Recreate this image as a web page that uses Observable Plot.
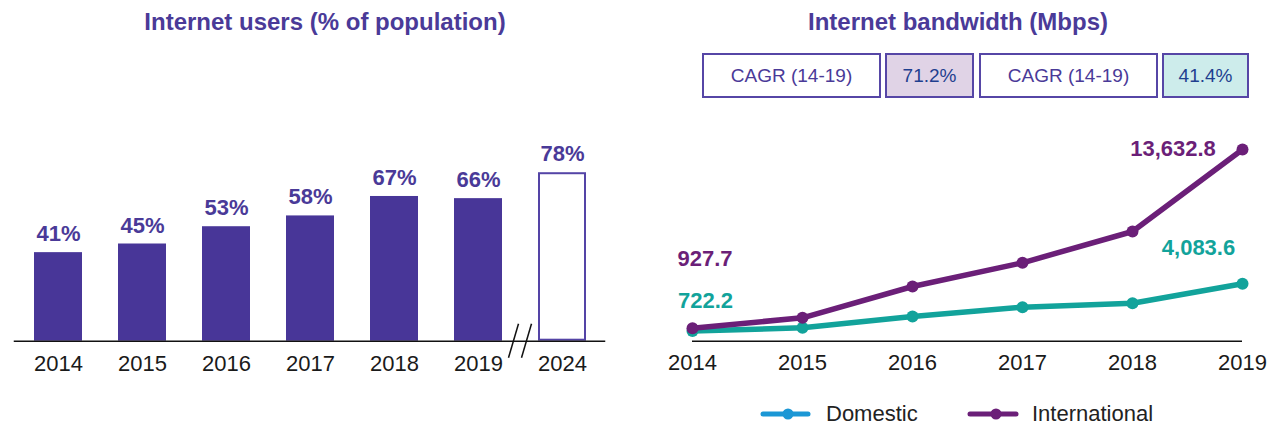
<!DOCTYPE html>
<html>
<head>
<meta charset="utf-8">
<script src="https://cdn.jsdelivr.net/npm/d3@7"></script>
<script src="https://cdn.jsdelivr.net/npm/@observablehq/plot@0.6"></script>
<style>
  body { margin: 0; background: #fff; font-family: "Liberation Sans", Arial, sans-serif; }
  #wrap { position: relative; width: 1268px; height: 428px; overflow: hidden; background: #fff; }
  .title { position: absolute; top: 10px; font-size: 24px; line-height: 24px; font-weight: bold; color: #4a3a98; text-align: center; white-space: nowrap; }
  .box { position: absolute; top: 53px; height: 45px; box-sizing: border-box; border: 2px solid #5646a6;
         display: flex; align-items: center; justify-content: center; font-size: 19px; white-space: nowrap; }
  .panel { position: absolute; top: 0; }
  .leg { position: absolute; top: 401px; height: 26px; display: flex; align-items: center; font-size: 22px; color: #222; white-space: nowrap; }
  .legsw { position: absolute; top: 406px; }
</style>
</head>
<body>
<div id="wrap"></div>
<script>
// ---------- data ----------
const userYears = ["2014", "2015", "2016", "2017", "2018", "2019", "2024"];
const userShare = [41, 45, 53, 58, 67, 66, 78];
const userProjected = [false, false, false, false, false, false, true];

const bwYears = ["2014", "2015", "2016", "2017", "2018", "2019"];
const domestic = [722.2, 953, 1757, 2418, 2703, 4083.6];
const international = [927.7, 1664, 3890, 5576, 7802, 13632.8];
const seriesNames = ["Domestic", "International"];

const cagrLabels = ["CAGR (14-19)", "CAGR (14-19)"];
const cagrValues = ["71.2%", "41.4%"];

const titles = ["Internet users (% of population)", "Internet bandwidth (Mbps)"];

// ---------- styles ----------
const barColor = "#483698";
const labelPurple = "#4a3a98";
const teal = "#12a39b";
const purple = "#6b1f78";
const legendColors = ["#1b97d5", "#6b1f78"];
const font = "Liberation Sans, Arial, sans-serif";

const wrap = document.getElementById("wrap");

// ---------- titles ----------
[[0, 650], [648, 620]].forEach(([l, w], i) => {
  const t = document.createElement("div");
  t.className = "title";
  t.style.left = l + "px";
  t.style.width = w + "px";
  t.textContent = titles[i];
  wrap.appendChild(t);
});

// ---------- CAGR boxes ----------
const boxGeom = [[702, 179], [885, 89], [979, 179], [1162, 87]];
const boxFills = ["#fff", "#e0d3e6", "#fff", "#cdeceb"];
const boxTexts = [cagrLabels[0], cagrValues[0], cagrLabels[1], cagrValues[1]];
const boxColors = ["#4a3a98", "#1f3f8f", "#4a3a98", "#1f3f8f"];
boxGeom.forEach(([l, w], i) => {
  const b = document.createElement("div");
  b.className = "box";
  b.style.left = l + "px";
  b.style.width = w + "px";
  b.style.background = boxFills[i];
  b.style.color = boxColors[i];
  b.textContent = boxTexts[i];
  wrap.appendChild(b);
});

// ---------- left chart: bars ----------
const bars = userYears.map((year, i) => ({year, value: userShare[i], projected: userProjected[i]}));

function breakMark(index, scales) {
  const x = scales.x, y = scales.y;
  const bw = typeof x.bandwidth === "function" ? x.bandwidth() : 0;
  const mid = (x("2019") + x("2024")) / 2 + bw / 2;
  const y0 = y(0);
  const ns = "http://www.w3.org/2000/svg";
  const g = document.createElementNS(ns, "g");
  [-6.5, 6.5].forEach(o => {
    const l = document.createElementNS(ns, "line");
    l.setAttribute("x1", mid + o - 5);
    l.setAttribute("y1", y0 + 17);
    l.setAttribute("x2", mid + o + 5);
    l.setAttribute("y2", y0 - 17);
    l.setAttribute("stroke", "#111");
    l.setAttribute("stroke-width", 1.5);
    g.appendChild(l);
  });
  return g;
}

const leftPlot = Plot.plot({
  width: 640,
  height: 428,
  marginLeft: 13.75,
  marginRight: 34.75,
  marginTop: 124.7,
  marginBottom: 87.3,
  style: {fontFamily: font, background: "transparent", overflow: "visible"},
  x: {domain: userYears, paddingInner: 0.432, paddingOuter: 0.216, label: null},
  y: {domain: [0, 100], axis: null},
  marks: [
    Plot.barY(bars.filter(d => !d.projected), {x: "year", y: "value", fill: barColor}),
    Plot.barY(bars.filter(d => d.projected), {x: "year", y: "value", fill: "white", stroke: "#5444a6", strokeWidth: 2, inset: 1}),
    Plot.ruleY([0], {stroke: "#111", strokeWidth: 1.5}),
    Plot.text(bars, {x: "year", y: "value", text: d => d.value + "%", dy: -18.5, fill: labelPurple, fontWeight: "bold", fontSize: 22}),
    Plot.axisX({tickSize: 0, tickPadding: 14, fontSize: 22, color: "#1a1a1a", label: null}),
    breakMark
  ]
});
const lp = document.createElement("div");
lp.className = "panel";
lp.style.left = "0px";
lp.appendChild(leftPlot);
wrap.appendChild(lp);

// ---------- right chart: lines ----------
const fmt = d3.format(",.1f");
const dom = bwYears.map((year, i) => ({year, value: domestic[i], series: seriesNames[0]}));
const intl = bwYears.map((year, i) => ({year, value: international[i], series: seriesNames[1]}));
const last = bwYears.length - 1;

const rightPlot = Plot.plot({
  width: 628,
  height: 428,
  marginLeft: 52,
  marginRight: 26,
  marginTop: 129.8,
  marginBottom: 87.3,
  style: {fontFamily: font, background: "transparent", overflow: "visible"},
  x: {type: "point", domain: bwYears, padding: 0, label: null},
  y: {domain: [0, 15000], axis: null},
  marks: [
    Plot.ruleY([0], {stroke: "#111", strokeWidth: 1.5}),
    Plot.line(dom, {x: "year", y: "value", stroke: teal, strokeWidth: 5.5}),
    Plot.dot(dom, {x: "year", y: "value", r: 6, fill: teal}),
    Plot.line(intl, {x: "year", y: "value", stroke: purple, strokeWidth: 5.5}),
    Plot.dot(intl, {x: "year", y: "value", r: 6, fill: purple}),
    Plot.text([dom[0]], {x: "year", y: "value", text: d => fmt(d.value), dx: 13, dy: -30.5, fill: teal, fontWeight: "bold", fontSize: 22}),
    Plot.text([dom[last]], {x: "year", y: "value", text: d => fmt(d.value), dx: -44, dy: -36, fill: teal, fontWeight: "bold", fontSize: 22}),
    Plot.text([intl[0]], {x: "year", y: "value", text: d => fmt(d.value), dx: 12.5, dy: -69.5, fill: purple, fontWeight: "bold", fontSize: 22}),
    Plot.text([intl[last]], {x: "year", y: "value", text: d => fmt(d.value), dx: -69.5, dy: -1, fill: purple, fontWeight: "bold", fontSize: 22}),
    Plot.axisX({tickSize: 0, tickPadding: 13, fontSize: 22, color: "#1a1a1a", label: null})
  ]
});
const rp = document.createElement("div");
rp.className = "panel";
rp.style.left = "640px";
rp.appendChild(rightPlot);
wrap.appendChild(rp);

// ---------- legend ----------
const legGeom = [{sw: 760, len: 45, dot: 25, text: 826}, {sw: 967, len: 46, dot: 26, text: 1032}];
seriesNames.forEach((name, i) => {
  const g = legGeom[i];
  const ns = "http://www.w3.org/2000/svg";
  const svg = document.createElementNS(ns, "svg");
  svg.setAttribute("width", 56);
  svg.setAttribute("height", 16);
  svg.setAttribute("class", "legsw");
  svg.style.left = g.sw + "px";
  const ln = document.createElementNS(ns, "line");
  ln.setAttribute("x1", 3); ln.setAttribute("x2", 3 + g.len);
  ln.setAttribute("y1", 8); ln.setAttribute("y2", 8);
  ln.setAttribute("stroke", legendColors[i]); ln.setAttribute("stroke-width", 5);
  ln.setAttribute("stroke-linecap", "round");
  svg.appendChild(ln);
  const c = document.createElementNS(ns, "circle");
  c.setAttribute("cx", 3 + g.dot); c.setAttribute("cy", 8); c.setAttribute("r", 5.5);
  c.setAttribute("fill", legendColors[i]);
  svg.appendChild(c);
  wrap.appendChild(svg);
  const t = document.createElement("div");
  t.className = "leg";
  t.style.left = g.text + "px";
  t.textContent = name;
  wrap.appendChild(t);
});
</script>
</body>
</html>
